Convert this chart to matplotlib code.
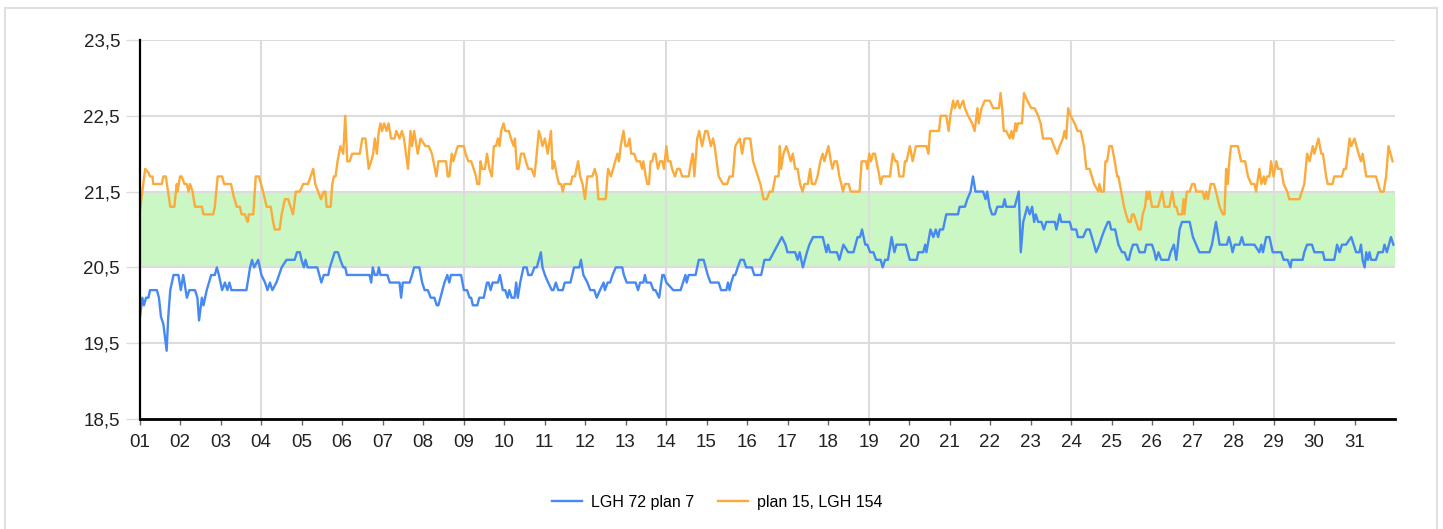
import numpy as np
import matplotlib
matplotlib.use("Agg")
import matplotlib.pyplot as plt
from matplotlib.patches import Rectangle

plt.rcParams['font.family'] = ['Liberation Sans', 'DejaVu Sans']

# (day of month, temperature)
blue_pts = [
    (1.00, 19.8), (1.07, 20.1), (1.11, 20.0), (1.16, 20.1), (1.22, 20.1), (1.26, 20.2), (1.43, 20.2), (1.48, 20.1),
    (1.53, 19.85), (1.59, 19.75), (1.67, 19.4), (1.71, 19.85), (1.76, 20.2), (1.84, 20.4), (1.96, 20.4),
    (2.02, 20.2), (2.08, 20.4), (2.17, 20.1), (2.23, 20.2), (2.37, 20.2), (2.43, 20.1), (2.47, 19.8), (2.54, 20.1),
    (2.58, 20.0), (2.66, 20.2), (2.77, 20.4), (2.86, 20.4), (2.91, 20.5), (2.96, 20.4),
    (3.04, 20.2), (3.11, 20.3), (3.17, 20.2), (3.22, 20.3), (3.27, 20.2), (3.64, 20.2), (3.73, 20.5), (3.78, 20.6),
    (3.83, 20.5), (3.93, 20.6),
    (4.01, 20.4), (4.10, 20.3), (4.16, 20.2), (4.22, 20.3), (4.28, 20.2), (4.38, 20.3), (4.51, 20.5), (4.63, 20.6),
    (4.83, 20.6), (4.89, 20.7), (4.96, 20.7),
    (5.00, 20.6), (5.06, 20.5), (5.10, 20.6), (5.15, 20.5), (5.39, 20.5), (5.49, 20.3), (5.55, 20.4), (5.66, 20.4),
    (5.70, 20.5), (5.76, 20.6), (5.82, 20.7), (5.90, 20.7), (5.96, 20.6),
    (6.03, 20.5), (6.08, 20.5), (6.12, 20.4), (6.68, 20.4), (6.72, 20.3), (6.76, 20.5), (6.81, 20.4), (6.87, 20.4),
    (6.91, 20.5), (6.95, 20.4),
    (7.12, 20.4), (7.18, 20.3), (7.42, 20.3), (7.46, 20.1), (7.50, 20.3), (7.67, 20.3), (7.73, 20.4), (7.78, 20.5),
    (7.91, 20.5), (7.98, 20.3),
    (8.04, 20.2), (8.12, 20.2), (8.19, 20.1), (8.28, 20.1), (8.34, 20.0), (8.38, 20.0), (8.43, 20.1), (8.53, 20.3),
    (8.60, 20.4), (8.65, 20.3), (8.69, 20.4), (8.94, 20.4),
    (9.01, 20.2), (9.09, 20.2), (9.15, 20.1), (9.19, 20.1), (9.23, 20.0), (9.34, 20.0), (9.39, 20.1), (9.50, 20.1),
    (9.58, 20.3), (9.62, 20.3), (9.67, 20.2), (9.72, 20.3), (9.85, 20.3), (9.90, 20.4), (9.97, 20.2),
    (10.03, 20.2), (10.09, 20.1), (10.13, 20.2), (10.19, 20.1), (10.26, 20.1), (10.30, 20.3), (10.34, 20.1),
    (10.40, 20.3), (10.48, 20.5), (10.56, 20.5), (10.60, 20.4), (10.68, 20.4), (10.75, 20.5), (10.81, 20.5),
    (10.91, 20.7), (10.95, 20.5),
    (11.01, 20.4), (11.09, 20.3), (11.18, 20.2), (11.22, 20.2), (11.28, 20.3), (11.34, 20.2), (11.45, 20.2),
    (11.50, 20.3), (11.64, 20.3), (11.73, 20.5), (11.86, 20.5), (11.90, 20.6), (11.96, 20.4),
    (12.06, 20.3), (12.13, 20.2), (12.23, 20.2), (12.29, 20.1), (12.37, 20.2), (12.46, 20.3), (12.49, 20.2),
    (12.56, 20.3), (12.62, 20.3), (12.68, 20.4), (12.76, 20.5), (12.92, 20.5), (12.96, 20.4),
    (13.03, 20.3), (13.25, 20.3), (13.31, 20.2), (13.36, 20.3), (13.44, 20.3), (13.48, 20.4), (13.52, 20.3),
    (13.62, 20.3), (13.69, 20.2), (13.74, 20.2), (13.83, 20.1), (13.91, 20.4), (13.95, 20.4),
    (14.01, 20.3), (14.18, 20.2), (14.36, 20.2), (14.42, 20.3), (14.48, 20.4), (14.51, 20.3), (14.56, 20.4),
    (14.73, 20.4), (14.81, 20.6), (14.93, 20.6),
    (15.03, 20.4), (15.10, 20.3), (15.30, 20.3), (15.36, 20.2), (15.49, 20.2), (15.53, 20.3), (15.57, 20.2),
    (15.61, 20.3), (15.67, 20.4), (15.71, 20.4), (15.77, 20.5), (15.84, 20.6), (15.92, 20.6), (15.98, 20.5),
    (16.12, 20.5), (16.18, 20.4), (16.35, 20.4), (16.43, 20.6), (16.56, 20.6), (16.66, 20.7), (16.76, 20.8),
    (16.86, 20.9), (16.95, 20.8),
    (17.00, 20.7), (17.19, 20.7), (17.25, 20.6), (17.30, 20.7), (17.38, 20.5), (17.48, 20.7), (17.54, 20.8),
    (17.63, 20.9), (17.87, 20.9), (17.96, 20.7),
    (18.00, 20.8), (18.05, 20.7), (18.22, 20.7), (18.28, 20.6), (18.38, 20.8), (18.50, 20.7), (18.63, 20.7),
    (18.73, 20.9), (18.79, 20.9), (18.84, 21.0), (18.92, 20.8), (18.97, 20.8),
    (19.04, 20.7), (19.12, 20.7), (19.19, 20.6), (19.30, 20.6), (19.35, 20.5), (19.41, 20.6), (19.48, 20.6),
    (19.57, 20.9), (19.64, 20.7), (19.69, 20.8), (19.92, 20.8),
    (20.02, 20.6), (20.19, 20.6), (20.23, 20.7), (20.35, 20.7), (20.40, 20.8), (20.43, 20.7), (20.53, 21.0),
    (20.60, 20.9), (20.66, 21.0), (20.72, 20.9), (20.76, 21.0), (20.84, 21.0), (20.92, 21.2),
    (21.21, 21.2), (21.25, 21.3), (21.38, 21.3), (21.44, 21.4), (21.52, 21.5), (21.58, 21.7), (21.64, 21.5),
    (21.83, 21.5), (21.89, 21.4), (21.93, 21.5), (21.99, 21.3),
    (22.05, 21.2), (22.12, 21.2), (22.18, 21.3), (22.32, 21.3), (22.36, 21.4), (22.40, 21.3), (22.61, 21.3),
    (22.71, 21.5), (22.76, 20.7), (22.82, 21.1), (22.92, 21.3), (22.98, 21.2),
    (23.04, 21.3), (23.09, 21.1), (23.13, 21.2), (23.19, 21.1), (23.27, 21.1), (23.33, 21.0), (23.39, 21.1),
    (23.60, 21.1), (23.64, 21.0), (23.72, 21.2), (23.76, 21.1), (23.97, 21.1),
    (24.02, 21.0), (24.13, 21.0), (24.17, 20.9), (24.30, 20.9), (24.38, 21.0), (24.46, 21.0), (24.57, 20.8),
    (24.62, 20.7), (24.70, 20.8), (24.76, 20.9), (24.83, 21.0), (24.91, 21.1), (24.95, 21.1), (24.99, 21.0),
    (25.09, 21.0), (25.17, 20.8), (25.26, 20.7), (25.32, 20.7), (25.39, 20.6), (25.43, 20.6), (25.47, 20.7),
    (25.53, 20.8), (25.63, 20.8), (25.69, 20.7), (25.82, 20.7), (25.86, 20.8),
    (26.00, 20.8), (26.06, 20.7), (26.10, 20.6), (26.16, 20.7), (26.23, 20.6), (26.41, 20.6), (26.46, 20.7),
    (26.54, 20.8), (26.60, 20.6), (26.68, 21.0), (26.74, 21.1), (26.93, 21.1),
    (27.01, 20.9), (27.09, 20.8), (27.17, 20.7), (27.42, 20.7), (27.48, 20.8), (27.58, 21.1), (27.67, 20.8),
    (27.85, 20.8), (27.90, 20.9), (27.95, 20.8), (27.99, 20.7),
    (28.04, 20.8), (28.16, 20.8), (28.22, 20.9), (28.27, 20.8), (28.53, 20.8), (28.65, 20.7), (28.70, 20.8),
    (28.74, 20.7), (28.82, 20.9), (28.90, 20.9), (28.98, 20.7),
    (29.19, 20.7), (29.25, 20.6), (29.35, 20.6), (29.42, 20.5), (29.45, 20.6), (29.72, 20.6), (29.76, 20.7),
    (29.83, 20.8), (29.95, 20.8),
    (30.01, 20.7), (30.22, 20.7), (30.26, 20.6), (30.50, 20.6), (30.57, 20.8), (30.63, 20.7), (30.69, 20.8),
    (30.79, 20.8), (30.92, 20.9), (30.98, 20.8),
    (31.04, 20.7), (31.12, 20.7), (31.16, 20.8), (31.20, 20.6), (31.25, 20.5), (31.29, 20.7), (31.33, 20.6),
    (31.37, 20.7), (31.41, 20.6), (31.53, 20.6), (31.59, 20.7), (31.70, 20.7), (31.74, 20.8), (31.80, 20.7),
    (31.90, 20.9), (31.96, 20.8),
]

orange_pts = [
    (1.00, 21.2), (1.14, 21.8), (1.22, 21.75), (1.26, 21.7), (1.32, 21.7), (1.34, 21.6), (1.55, 21.6), (1.59, 21.7),
    (1.65, 21.7), (1.76, 21.3), (1.86, 21.3), (1.92, 21.6), (1.94, 21.5),
    (2.00, 21.7), (2.04, 21.7), (2.11, 21.6), (2.17, 21.6), (2.21, 21.5), (2.25, 21.6), (2.31, 21.5), (2.37, 21.3),
    (2.54, 21.3), (2.58, 21.2), (2.82, 21.2), (2.86, 21.3), (2.93, 21.7),
    (3.04, 21.7), (3.09, 21.6), (3.26, 21.6), (3.32, 21.45), (3.40, 21.3), (3.48, 21.3), (3.52, 21.2), (3.60, 21.2),
    (3.67, 21.1), (3.70, 21.2), (3.81, 21.2), (3.87, 21.7), (3.95, 21.7),
    (4.05, 21.5), (4.14, 21.3), (4.24, 21.3), (4.30, 21.1), (4.34, 21.0), (4.46, 21.0), (4.51, 21.2), (4.55, 21.3),
    (4.59, 21.4), (4.67, 21.4), (4.73, 21.3), (4.79, 21.2), (4.86, 21.5), (4.96, 21.5),
    (5.04, 21.6), (5.16, 21.6), (5.29, 21.8), (5.34, 21.6), (5.41, 21.5), (5.48, 21.4), (5.55, 21.5), (5.59, 21.5),
    (5.62, 21.3), (5.72, 21.3), (5.76, 21.6), (5.80, 21.7), (5.84, 21.7), (5.89, 21.9), (5.96, 22.1),
    (6.03, 22.0), (6.08, 22.5), (6.13, 21.9), (6.19, 21.9), (6.25, 22.0), (6.44, 22.0), (6.50, 22.2), (6.58, 22.2),
    (6.66, 21.8), (6.72, 21.9), (6.77, 22.0), (6.81, 22.2), (6.86, 22.0), (6.91, 22.3), (6.95, 22.4), (6.99, 22.3),
    (7.04, 22.4), (7.10, 22.3), (7.15, 22.4), (7.21, 22.2), (7.30, 22.2), (7.34, 22.3), (7.42, 22.2), (7.48, 22.3),
    (7.53, 22.2), (7.63, 21.8), (7.69, 22.3), (7.73, 22.1), (7.78, 22.3), (7.87, 22.0), (7.94, 22.2),
    (8.06, 22.1), (8.14, 22.1), (8.22, 22.0), (8.33, 21.7), (8.38, 21.9), (8.57, 21.9), (8.61, 21.7), (8.65, 21.7),
    (8.71, 22.0), (8.75, 21.9), (8.80, 22.0), (8.86, 22.1),
    (9.01, 22.1), (9.05, 22.0), (9.12, 21.9), (9.19, 21.9), (9.25, 21.8), (9.31, 21.7), (9.34, 21.6), (9.39, 21.6),
    (9.42, 21.9), (9.46, 21.8), (9.53, 21.8), (9.58, 22.0), (9.64, 21.8), (9.70, 21.7), (9.75, 22.1), (9.80, 22.1),
    (9.85, 22.2), (9.89, 22.1), (9.93, 22.3), (9.99, 22.4),
    (10.03, 22.3), (10.12, 22.3), (10.17, 22.2), (10.24, 22.1), (10.27, 22.2), (10.32, 21.8), (10.36, 21.8),
    (10.42, 22.0), (10.49, 22.0), (10.54, 21.9), (10.60, 21.8), (10.68, 21.8), (10.75, 21.7), (10.79, 21.9),
    (10.86, 22.3), (10.91, 22.2), (10.95, 22.1),
    (11.01, 22.2), (11.08, 22.0), (11.16, 22.3), (11.20, 21.8), (11.24, 21.9), (11.31, 21.7), (11.36, 21.6),
    (11.41, 21.6), (11.45, 21.5), (11.49, 21.6), (11.65, 21.6), (11.69, 21.7), (11.75, 21.7), (11.83, 21.9),
    (11.88, 21.7), (11.94, 21.6),
    (12.00, 21.4), (12.06, 21.7), (12.18, 21.7), (12.24, 21.8), (12.29, 21.7), (12.33, 21.4), (12.51, 21.4),
    (12.57, 21.8), (12.64, 21.7), (12.80, 22.0), (12.84, 21.9), (12.88, 22.1), (12.95, 22.3),
    (13.00, 22.1), (13.05, 22.1), (13.10, 22.2), (13.14, 22.0), (13.21, 22.0), (13.28, 21.9), (13.36, 21.9),
    (13.41, 21.8), (13.44, 21.9), (13.50, 21.7), (13.54, 21.6), (13.58, 21.6), (13.62, 21.9), (13.66, 21.9),
    (13.70, 22.0), (13.74, 22.0), (13.80, 21.8), (13.85, 21.9), (13.91, 21.9), (13.95, 21.8),
    (14.01, 22.1), (14.05, 21.9), (14.11, 21.9), (14.15, 21.8), (14.22, 21.7), (14.28, 21.8), (14.34, 21.8),
    (14.40, 21.7), (14.56, 21.7), (14.62, 21.9), (14.66, 22.0), (14.70, 21.7), (14.77, 22.2), (14.82, 22.3),
    (14.89, 22.1), (14.97, 22.3),
    (15.02, 22.3), (15.11, 22.1), (15.16, 22.2), (15.20, 22.1), (15.30, 21.7), (15.41, 21.6), (15.51, 21.6),
    (15.57, 21.7), (15.65, 21.7), (15.71, 22.1), (15.82, 22.2), (15.88, 22.0), (15.94, 22.2),
    (16.00, 22.2), (16.08, 22.2), (16.15, 21.9), (16.21, 21.8), (16.33, 21.6), (16.41, 21.4), (16.49, 21.4),
    (16.56, 21.5), (16.63, 21.5), (16.70, 21.7), (16.78, 21.7), (16.81, 22.1), (16.84, 21.8), (16.90, 22.0),
    (16.97, 22.1),
    (17.03, 22.0), (17.08, 21.9), (17.13, 22.0), (17.19, 21.8), (17.25, 21.8), (17.31, 21.6), (17.37, 21.5),
    (17.42, 21.6), (17.50, 21.6), (17.56, 21.8), (17.60, 21.6), (17.68, 21.6), (17.74, 21.7), (17.81, 21.9),
    (17.87, 22.0), (17.91, 21.9),
    (18.01, 22.1), (18.07, 21.9), (18.11, 21.8), (18.16, 21.9), (18.22, 21.9), (18.28, 21.7), (18.33, 21.6),
    (18.37, 21.5), (18.42, 21.6), (18.51, 21.6), (18.56, 21.5), (18.78, 21.5), (18.83, 21.9), (18.94, 21.9),
    (18.97, 21.8),
    (19.02, 22.0), (19.06, 21.9), (19.11, 22.0), (19.16, 22.0), (19.27, 21.7), (19.30, 21.6), (19.35, 21.7),
    (19.53, 21.7), (19.60, 22.0), (19.66, 21.9), (19.71, 21.9), (19.76, 21.7), (19.86, 21.7), (19.90, 21.9),
    (19.94, 21.9),
    (20.02, 22.1), (20.09, 21.9), (20.17, 22.1), (20.43, 22.1), (20.48, 22.0), (20.52, 22.3), (20.68, 22.3),
    (20.74, 22.3), (20.78, 22.5), (20.92, 22.5), (20.98, 22.3),
    (21.02, 22.5), (21.09, 22.7), (21.13, 22.6), (21.20, 22.7), (21.25, 22.6), (21.34, 22.7), (21.38, 22.6),
    (21.46, 22.5), (21.56, 22.4), (21.62, 22.3), (21.69, 22.6), (21.72, 22.4), (21.79, 22.6), (21.87, 22.7),
    (21.99, 22.7),
    (22.08, 22.6), (22.22, 22.6), (22.26, 22.8), (22.30, 22.6), (22.34, 22.3), (22.40, 22.3), (22.49, 22.2),
    (22.53, 22.3), (22.57, 22.2), (22.63, 22.4), (22.65, 22.3), (22.69, 22.4), (22.79, 22.4), (22.84, 22.8),
    (22.92, 22.7),
    (23.02, 22.6), (23.10, 22.6), (23.19, 22.5), (23.25, 22.4), (23.31, 22.2), (23.51, 22.2), (23.58, 22.1),
    (23.66, 22.0), (23.72, 22.1), (23.80, 22.2), (23.84, 22.3), (23.88, 22.2), (23.93, 22.6), (23.99, 22.5),
    (24.09, 22.4), (24.16, 22.3), (24.24, 22.3), (24.32, 22.1), (24.38, 21.8), (24.46, 21.8), (24.57, 21.6),
    (24.68, 21.5), (24.70, 21.6), (24.75, 21.5), (24.81, 21.5), (24.85, 21.9), (24.89, 21.9), (24.95, 22.1),
    (25.01, 22.1), (25.08, 21.9), (25.14, 21.7), (25.17, 21.7), (25.24, 21.5), (25.31, 21.3), (25.36, 21.2),
    (25.42, 21.1), (25.47, 21.1), (25.51, 21.2), (25.55, 21.2), (25.61, 21.1), (25.67, 21.0), (25.72, 21.0),
    (25.77, 21.2), (25.83, 21.3), (25.87, 21.5), (25.90, 21.4), (25.94, 21.5),
    (26.00, 21.3), (26.15, 21.3), (26.25, 21.5), (26.31, 21.3), (26.43, 21.3), (26.50, 21.5), (26.56, 21.3),
    (26.60, 21.3), (26.65, 21.2), (26.74, 21.2), (26.78, 21.4), (26.80, 21.2), (26.86, 21.5), (26.93, 21.5),
    (26.99, 21.6),
    (27.05, 21.6), (27.09, 21.5), (27.25, 21.5), (27.30, 21.4), (27.34, 21.5), (27.38, 21.4), (27.45, 21.6),
    (27.53, 21.6), (27.58, 21.5), (27.67, 21.3), (27.75, 21.2), (27.79, 21.2), (27.83, 21.8), (27.87, 21.6),
    (27.91, 21.9), (27.95, 22.1),
    (28.12, 22.1), (28.20, 21.9), (28.30, 21.9), (28.37, 21.7), (28.45, 21.6), (28.53, 21.6), (28.57, 21.5),
    (28.65, 21.8), (28.70, 21.6), (28.76, 21.7), (28.79, 21.6), (28.84, 21.7), (28.90, 21.7), (28.94, 21.9),
    (29.00, 21.7), (29.07, 21.9), (29.11, 21.8), (29.19, 21.8), (29.25, 21.6), (29.34, 21.5), (29.39, 21.4),
    (29.64, 21.4), (29.70, 21.5), (29.76, 21.6), (29.83, 22.0), (29.89, 21.9), (29.97, 22.1),
    (30.01, 22.0), (30.11, 22.2), (30.18, 22.0), (30.22, 22.0), (30.30, 21.7), (30.34, 21.6), (30.46, 21.6),
    (30.50, 21.7), (30.69, 21.7), (30.74, 21.8), (30.79, 21.8), (30.88, 22.2), (30.92, 22.1),
    (31.00, 22.2), (31.10, 22.0), (31.16, 21.9), (31.20, 22.0), (31.29, 21.7), (31.53, 21.7), (31.64, 21.5),
    (31.72, 21.5), (31.78, 21.7), (31.84, 22.1), (31.89, 22.0), (31.94, 21.9),
]

series_names = ["LGH 72 plan 7", "plan 15, LGH 154"]
series_colors = ["#4689f2", "#fbab3c"]
day_labels = ["%02d" % d for d in range(1, 32)]
y_ticks = [18.5, 19.5, 20.5, 21.5, 22.5, 23.5]
band_low, band_high = 20.5, 21.5

fig = plt.figure(figsize=(14.43, 5.29), dpi=100)
ax = fig.add_axes([139.5 / 1443, 1 - 419 / 529, (1395 - 139.5) / 1443, (419 - 40) / 529])

ax.axhspan(band_low, band_high, color="#cbf7c4", lw=0, zorder=0.1)

for pts, name, col in zip([blue_pts, orange_pts], series_names, series_colors):
    arr = np.array(pts)
    ax.plot(arr[:, 0], arr[:, 1], color=col, lw=1.7, label=name, zorder=3)

ax.set_xlim(1, 32)
ax.set_ylim(18.5, 23.5)
ax.set_yticks(y_ticks)
ax.set_yticklabels([("%.1f" % v).replace(".", ",") for v in y_ticks])
ax.set_xticks(range(1, 32))
ax.set_xticklabels(day_labels)

# grid: every y tick, vertical lines every 5 days from the 4th
ax.set_axisbelow(True)
ax.yaxis.grid(True, color="#dcdcdc", lw=1.5)
for d in range(4, 32, 5):
    ax.axvline(d, color="#dcdcdc", lw=1.5, zorder=0.5)

for s in ["top", "right"]:
    ax.spines[s].set_visible(False)
ax.spines["left"].set_linewidth(1.6)
ax.spines["bottom"].set_linewidth(2.0)
ax.spines["left"].set_zorder(4)
ax.spines["bottom"].set_zorder(4)

ax.tick_params(axis="y", length=10, width=1, color="#dcdcdc", pad=4, labelsize=13.5, labelcolor="#222222")
ax.tick_params(axis="x", length=4, width=1, color="#666666", pad=7, labelsize=13.5, labelcolor="#222222")

fig.legend(loc="center", bbox_to_anchor=(0.497, 0.051), ncol=2, frameon=False, fontsize=11.5,
           handlelength=1.9, handletextpad=0.55, columnspacing=1.5)

fig.patches.append(Rectangle((5 / 1443, -0.1), (1437 - 5) / 1443, 1.1 - 8 / 529, transform=fig.transFigure,
                             fill=False, edgecolor="#e0e0e0", lw=1.5))

fig.savefig("out.png", dpi=100)
